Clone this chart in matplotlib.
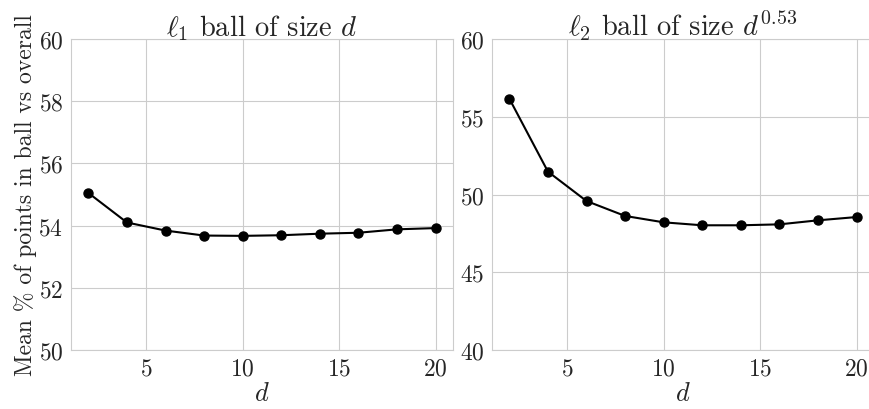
import matplotlib
matplotlib.use("Agg")
import matplotlib.pyplot as plt
import seaborn as sns

# data
d_vals = [2, 4, 6, 8, 10, 12, 14, 16, 18, 20]
l1_pct = [55.05, 54.10, 53.84, 53.68, 53.67, 53.69, 53.74, 53.77, 53.88, 53.92]
l2_pct = [56.16, 51.47, 49.58, 48.62, 48.21, 48.02, 48.02, 48.08, 48.34, 48.55]

sns.set_style("whitegrid")
plt.rcParams['font.family'] = 'serif'
plt.rcParams['font.serif'] = ['cmr10', 'DejaVu Serif']
plt.rcParams['mathtext.fontset'] = 'cm'
plt.rcParams['axes.formatter.use_mathtext'] = True
plt.rcParams['axes.unicode_minus'] = False

fig = plt.figure(figsize=(8.69, 4.10), dpi=100)
W, H = 869, 410
ax1 = fig.add_axes([71 / W, 1 - 351 / H, (453 - 71) / W, 311 / H])
ax2 = fig.add_axes([492 / W, 1 - 351 / H, (874 - 492) / W, 311 / H])

ax1.plot(d_vals, l1_pct, color='black', marker='o', markersize=6.5, linewidth=1.5)
ax1.set_ylim(50, 60)
ax1.set_yticks([50, 52, 54, 56, 58, 60])
ax1.set_title(r"$\ell_1$ ball of size $d$", fontsize=20.5, pad=3, color='.15')
ax1.set_ylabel("Mean % of points in ball vs overall", fontsize=17, color='.15', labelpad=1)
ax1.set_xlabel(r"$d$", fontsize=19, labelpad=1, color='.15')

ax2.plot(d_vals, l2_pct, color='black', marker='o', markersize=6.5, linewidth=1.5)
ax2.set_ylim(40, 60)
ax2.set_yticks([40, 45, 50, 55, 60])
ax2.set_title(r"$\ell_2$ ball of size $d^{0.53}$", fontsize=20.5, pad=3, color='.15')
ax2.set_xlabel(r"$d$", fontsize=19, labelpad=1, color='.15')

for ax in (ax1, ax2):
    ax.set_xticks([5, 10, 15, 20])
    ax.tick_params(labelsize=17, colors='.15', pad=2)
    for s in ax.spines.values():
        s.set_color('.8')

fig.savefig("out.png", dpi=100)
